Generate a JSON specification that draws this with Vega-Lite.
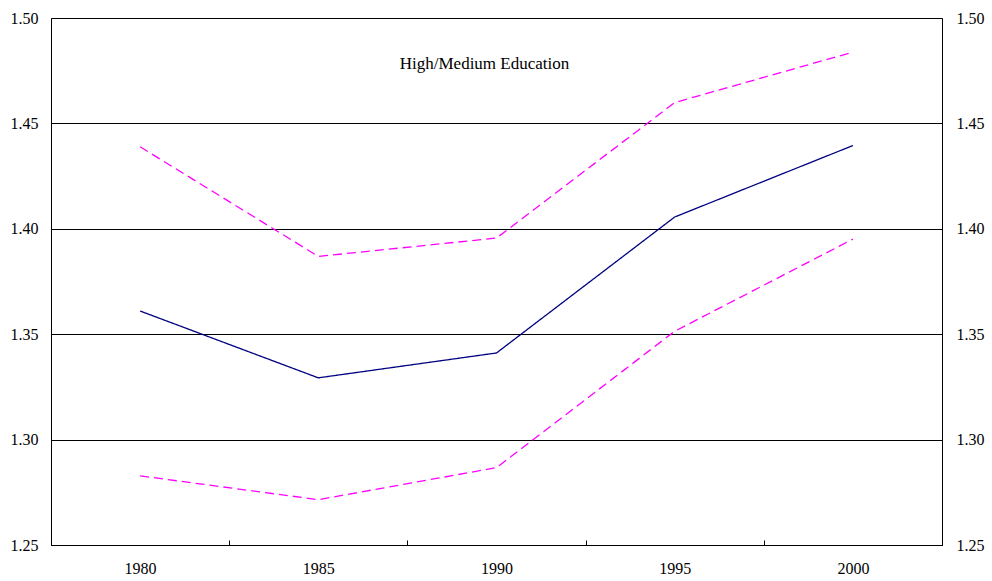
{
  "$schema": "https://vega.github.io/schema/vega-lite/v6.json",
  "autosize": "none",
  "width": 891,
  "height": 527,
  "padding": {"left": 51, "top": 18, "right": 50, "bottom": 36},
  "background": "white",
  "title": {
    "text": "High/Medium Education",
    "anchor": "middle",
    "frame": "group",
    "orient": "top",
    "offset": -80,
    "dx": -12,
    "baseline": "bottom",
    "font": "Liberation Serif",
    "fontSize": 17,
    "fontWeight": "normal",
    "color": "black"
  },
  "data": {
    "values": [
      {"year": "1980", "series": "Estimate", "value": 1.361},
      {"year": "1985", "series": "Estimate", "value": 1.3293},
      {"year": "1990", "series": "Estimate", "value": 1.3411},
      {"year": "1995", "series": "Estimate", "value": 1.4056},
      {"year": "2000", "series": "Estimate", "value": 1.4395},
      {"year": "1980", "series": "Upper", "value": 1.4389},
      {"year": "1985", "series": "Upper", "value": 1.3869},
      {"year": "1990", "series": "Upper", "value": 1.3956},
      {"year": "1995", "series": "Upper", "value": 1.4599},
      {"year": "2000", "series": "Upper", "value": 1.4838},
      {"year": "1980", "series": "Lower", "value": 1.2828},
      {"year": "1985", "series": "Lower", "value": 1.2715},
      {"year": "1990", "series": "Lower", "value": 1.2867},
      {"year": "1995", "series": "Lower", "value": 1.3514},
      {"year": "2000", "series": "Lower", "value": 1.3951}
    ]
  },
  "encoding": {
    "x": {
      "field": "year",
      "type": "ordinal",
      "scale": {"type": "band", "paddingInner": 0, "paddingOuter": 0},
      "axis": {
        "title": null,
        "labelAngle": 0,
        "labelFont": "Liberation Serif",
        "labelFontSize": 16,
        "labelColor": "black",
        "labelPadding": 20,
        "tickBand": "extent",
        "tickSize": -5,
        "tickColor": "black",
        "tickWidth": 1,
        "domainColor": "black",
        "domainWidth": 1,
        "grid": false
      }
    }
  },
  "layer": [
    {
      "mark": {"type": "line", "strokeWidth": 1.3, "clip": true},
      "encoding": {
        "y": {
          "field": "value",
          "type": "quantitative",
          "scale": {"domain": [1.25, 1.5], "nice": false, "zero": false},
          "axis": {
            "orient": "left",
            "title": null,
            "values": [1.25, 1.3, 1.35, 1.4, 1.45, 1.5],
            "format": ".2f",
            "labelFont": "Liberation Serif",
            "labelFontSize": 16,
            "labelColor": "black",
            "labelPadding": 13,
            "ticks": false,
            "tickSize": 0,
            "domain": false,
            "grid": true,
            "gridColor": "black",
            "gridWidth": 1,
            "gridOpacity": 1
          }
        },
        "color": {
          "field": "series",
          "type": "nominal",
          "scale": {"domain": ["Estimate", "Upper", "Lower"], "range": ["#000080", "#FF00FF", "#FF00FF"]},
          "legend": null
        },
        "strokeDash": {
          "field": "series",
          "type": "nominal",
          "scale": {"domain": ["Estimate", "Upper", "Lower"], "range": [[1, 0], [9, 5], [9, 5]]},
          "legend": null
        }
      }
    },
    {
      "mark": {"type": "line", "opacity": 0},
      "encoding": {
        "y": {
          "field": "value",
          "type": "quantitative",
          "scale": {"domain": [1.25, 1.5], "nice": false, "zero": false},
          "axis": {
            "orient": "right",
            "title": null,
            "values": [1.25, 1.3, 1.35, 1.4, 1.45, 1.5],
            "format": ".2f",
            "labelFont": "Liberation Serif",
            "labelFontSize": 16,
            "labelColor": "black",
            "labelPadding": 14,
            "ticks": false,
            "tickSize": 0,
            "domain": false,
            "grid": false
          }
        },
        "detail": {"field": "series", "type": "nominal"}
      }
    }
  ],
  "resolve": {"scale": {"y": "shared"}, "axis": {"y": "independent"}},
  "config": {
    "view": {"stroke": "black", "strokeWidth": 1},
    "axis": {"labelFont": "Liberation Serif"}
  }
}
